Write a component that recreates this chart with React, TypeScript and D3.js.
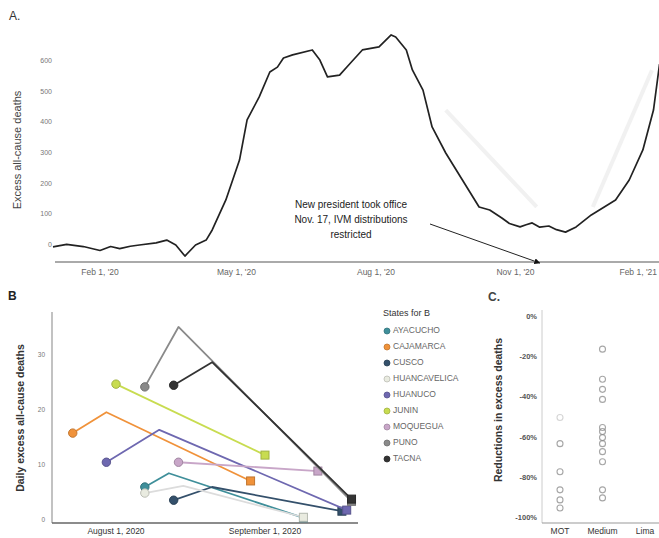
import React, { useEffect, useRef } from 'react';
import * as d3 from 'd3';

// Panel A: Peru, daily excess all-cause deaths (7-day avg)
const peruDates = [
  '2020-01-01', '2020-01-10', '2020-01-21', '2020-02-01', '2020-02-08', '2020-02-14', '2020-02-21',
  '2020-02-27', '2020-03-09', '2020-03-16', '2020-03-22', '2020-03-28', '2020-04-04', '2020-04-11',
  '2020-04-15', '2020-04-24', '2020-05-03', '2020-05-08', '2020-05-16', '2020-05-23', '2020-05-28',
  '2020-06-01', '2020-06-07', '2020-06-20', '2020-06-25', '2020-06-30', '2020-07-08', '2020-07-14',
  '2020-07-23', '2020-08-03', '2020-08-11', '2020-08-14', '2020-08-21', '2020-08-25', '2020-09-01',
  '2020-09-07', '2020-09-16', '2020-09-27', '2020-10-08', '2020-10-15', '2020-10-23', '2020-10-28',
  '2020-11-04', '2020-11-08', '2020-11-12', '2020-11-17', '2020-11-23', '2020-11-28', '2020-12-04',
  '2020-12-11', '2020-12-21', '2021-01-06', '2021-01-15', '2021-01-24', '2021-01-31', '2021-02-04',
];
const peruExcess = [
  -6, 2, -5, -18, -5, -12, -4,
  0, 7, 16, 0, -36, 0, 16,
  49, 147, 277, 408, 483, 564, 580,
  610, 620, 636, 603, 548, 554, 587,
  636, 646, 685, 678, 636, 571, 505,
  385, 300, 212, 124, 114, 88, 70,
  59, 66, 72, 58, 62, 50, 42,
  59, 98, 147, 212, 310, 440, 590,
];
const peruTicks = ['2020-02-01', '2020-05-01', '2020-08-01', '2020-11-01', '2021-02-01'];
const peruTickLabels = ["Feb 1, '20", "May 1, '20", "Aug 1, '20", "Nov 1, '20", "Feb 1, '21"];
const peruYTicks = [0, 100, 200, 300, 400, 500, 600];
const presidentDate = '2020-11-17';
// faint grey guide bands in the background of A
const guideDates = [['2020-09-16', '2020-11-15'], ['2020-12-22', '2021-01-30']];
const guideValues = [[440, 124], [124, 570]];

// Panel B: states
const states = ['AYACUCHO', 'CAJAMARCA', 'CUSCO', 'HUANCAVELICA', 'HUANUCO', 'JUNIN', 'MOQUEGUA', 'PUNO', 'TACNA'];
const stateColors = ['#3f8f9a', '#f0923a', '#34506b', '#e9ebe0', '#6e68b0', '#c8dc50', '#c8a6c8', '#8a8a8a', '#333333'];
const stateDates = [
  ['2020-08-07', '2020-08-12', '2020-09-09'],
  ['2020-07-23', '2020-07-30', '2020-08-29'],
  ['2020-08-13', '2020-08-21', '2020-09-17'],
  ['2020-08-07', '2020-08-15', '2020-09-09'],
  ['2020-07-30', '2020-08-10', '2020-09-18'],
  ['2020-08-01', '2020-09-01'],
  ['2020-08-14', '2020-09-12'],
  ['2020-08-07', '2020-08-14', '2020-09-19'],
  ['2020-08-13', '2020-08-21', '2020-09-19'],
];
const stateValues = [
  [6, 8.5, 0.4],
  [15.8, 19.6, 7.1],
  [3.6, 6, 1.6],
  [4.9, 6.2, 0.5],
  [10.5, 16.4, 1.8],
  [24.7, 11.8],
  [10.5, 8.9],
  [24.2, 35.1, 3.4],
  [24.5, 28.7, 3.8],
];
const bYTicks = [0, 10, 20, 30];
const bDateTicks = ['2020-08-01', '2020-09-01'];
const bDateLabels = ['August 1, 2020', 'September 1, 2020'];

// Panel C: reductions by distribution group
const groups = ['MOT', 'Medium', 'Lima'];
const motReductions = [-50, -63, -77, -86, -91, -95];
const mediumReductions = [-16, -31, -36, -41, -55, -57, -60, -63, -67, -72, -86, -90];
const cTicks = [0, -20, -40, -60, -80, -100];

const font = 'Liberation Sans, Arial, sans-serif';
const parse = d3.timeParse('%Y-%m-%d');

export default function App() {
  const ref = useRef<SVGSVGElement>(null);
  const width = 659;
  const height = 538;

  useEffect(() => {
    const svg = d3.select(ref.current);
    svg.selectAll('*').remove();
    svg.append('rect').attr('width', width).attr('height', height).attr('fill', 'white');

    // ---------- Panel A ----------
    const xA = d3.scaleTime()
      .domain([parse('2020-02-01')!, parse('2021-02-01')!])
      .range([100, 655]);
    const yA = d3.scaleLinear().domain([0, 600]).range([245, 61]);

    svg.append('text').attr('x', 9).attr('y', 20).text('A.')
      .style('font-family', font).style('font-size', '12px').style('fill', '#333');

    guideDates.forEach((ds, i) => {
      svg.append('line')
        .attr('x1', xA(parse(ds[0])!)).attr('y1', yA(guideValues[i][0]))
        .attr('x2', xA(parse(ds[1])!)).attr('y2', yA(guideValues[i][1]))
        .attr('stroke', '#f1f1f1').attr('stroke-width', 4);
    });

    peruYTicks.forEach(t => {
      svg.append('text')
        .attr('x', 52).attr('y', yA(t)).attr('text-anchor', 'end').attr('dominant-baseline', 'middle')
        .style('font-family', font).style('font-size', '7px').style('fill', '#777')
        .text(t);
    });
    svg.append('text')
      .attr('transform', `translate(21,150) rotate(-90)`)
      .attr('text-anchor', 'middle')
      .style('font-family', font).style('font-size', '11px').style('fill', '#444')
      .text('Excess all-cause deaths');

    svg.append('line').attr('x1', 55).attr('x2', 659).attr('y1', 262).attr('y2', 262)
      .attr('stroke', '#aaa').attr('stroke-width', 2);
    peruTicks.forEach((t, i) => {
      const last = i === peruTicks.length - 1;
      svg.append('text')
        .attr('x', last ? 657 : xA(parse(t)!)).attr('y', 275)
        .attr('text-anchor', last ? 'end' : 'middle')
        .style('font-family', font).style('font-size', '8.5px').style('fill', '#666')
        .text(peruTickLabels[i]);
    });

    const lineA = d3.line<number>()
      .x((_, i) => xA(parse(peruDates[i])!))
      .y(d => yA(d))
      .curve(d3.curveLinear);
    svg.append('path')
      .attr('d', lineA(peruExcess))
      .attr('fill', 'none').attr('stroke', '#222').attr('stroke-width', 1.7)
      .attr('stroke-linejoin', 'round');

    const note = ['New president took office', 'Nov. 17, IVM distributions', 'restricted'];
    note.forEach((s, i) => {
      svg.append('text')
        .attr('x', 351).attr('y', 208 + i * 15).attr('text-anchor', 'middle')
        .style('font-family', font).style('font-size', '10px').style('fill', '#222')
        .text(s);
    });
    const px = xA(parse(presidentDate)!);
    svg.append('defs').append('marker')
      .attr('id', 'arrow').attr('viewBox', '0 0 10 10').attr('refX', 9).attr('refY', 5)
      .attr('markerWidth', 6).attr('markerHeight', 6).attr('orient', 'auto')
      .append('path').attr('d', 'M0,0 L10,5 L0,10 z').attr('fill', '#111');
    svg.append('line')
      .attr('x1', 430).attr('y1', 224).attr('x2', px).attr('y2', 263)
      .attr('stroke', '#222').attr('stroke-width', 1).attr('marker-end', 'url(#arrow)');

    // ---------- Panel B ----------
    const xB = d3.scaleTime()
      .domain([parse('2020-08-01')!, parse('2020-09-01')!])
      .range([116, 265]);
    const yB = d3.scaleLinear().domain([0, 10]).range([520, 465]);

    svg.append('text').attr('x', 8).attr('y', 300).text('B')
      .style('font-family', font).style('font-size', '12px').style('font-weight', 'bold').style('fill', '#222');

    svg.append('line').attr('x1', 52).attr('x2', 52).attr('y1', 312).attr('y2', 523)
      .attr('stroke', '#999').attr('stroke-width', 1.2);
    svg.append('line').attr('x1', 52).attr('x2', 358).attr('y1', 523).attr('y2', 523)
      .attr('stroke', '#666').attr('stroke-width', 1.5);
    bYTicks.forEach(t => {
      svg.append('text')
        .attr('x', 45).attr('y', yB(t)).attr('text-anchor', 'end').attr('dominant-baseline', 'middle')
        .style('font-family', font).style('font-size', '6.5px').style('fill', '#777')
        .text(t);
    });
    bDateTicks.forEach((t, i) => {
      svg.append('text')
        .attr('x', xB(parse(t)!)).attr('y', 534).attr('text-anchor', 'middle')
        .style('font-family', font).style('font-size', '8.5px').style('fill', '#333')
        .text(bDateLabels[i]);
    });
    svg.append('text')
      .attr('transform', `translate(24,418) rotate(-90)`)
      .attr('text-anchor', 'middle')
      .style('font-family', font).style('font-size', '10.5px').style('font-weight', 'bold').style('fill', '#333')
      .text('Daily excess all-cause deaths');

    states.forEach((s, k) => {
      const pts = stateDates[k].map((d, i) => [xB(parse(d)!), yB(stateValues[k][i])] as [number, number]);
      const col = stateColors[k];
      const edge = d3.color(col)!.darker(0.6).formatHex();
      svg.append('path')
        .attr('d', d3.line()(pts))
        .attr('fill', 'none').attr('stroke', k === 3 ? '#dcdcdc' : col).attr('stroke-width', 1.8)
        .attr('stroke-linejoin', 'round');
      const first = pts[0];
      const last = pts[pts.length - 1];
      svg.append('circle').attr('cx', first[0]).attr('cy', first[1]).attr('r', 4.2)
        .attr('fill', col).attr('stroke', edge).attr('stroke-width', 1);
      svg.append('rect').attr('x', last[0] - 4).attr('y', last[1] - 4).attr('width', 8).attr('height', 8)
        .attr('fill', col).attr('stroke', edge).attr('stroke-width', 1);
    });

    // legend
    svg.append('text').attr('x', 383).attr('y', 316).text('States for B')
      .style('font-family', font).style('font-size', '9px').style('fill', '#333');
    states.forEach((s, k) => {
      const y = 331 + k * 16;
      const col = stateColors[k];
      svg.append('circle').attr('cx', 387).attr('cy', y).attr('r', 3)
        .attr('fill', col).attr('stroke', d3.color(col)!.darker(0.6).formatHex()).attr('stroke-width', 0.8);
      svg.append('text').attr('x', 393).attr('y', y).attr('dominant-baseline', 'middle')
        .style('font-family', font).style('font-size', '8.5px').style('fill', '#666')
        .text(s);
    });

    // ---------- Panel C ----------
    const xC = d3.scalePoint().domain(groups).range([560, 645]);
    const yC = d3.scaleLinear().domain([-100, 0]).range([518, 317]);

    svg.append('text').attr('x', 488).attr('y', 301).text('C.')
      .style('font-family', font).style('font-size', '12px').style('font-weight', 'bold').style('fill', '#444');
    svg.append('text')
      .attr('transform', `translate(502,410) rotate(-90)`)
      .attr('text-anchor', 'middle')
      .style('font-family', font).style('font-size', '10.5px').style('font-weight', 'bold').style('fill', '#333')
      .text('Reductions in excess deaths');
    svg.append('line').attr('x1', 542).attr('x2', 542).attr('y1', 310).attr('y2', 523)
      .attr('stroke', '#ccc').attr('stroke-width', 1);
    svg.append('line').attr('x1', 542).attr('x2', 659).attr('y1', 523).attr('y2', 523)
      .attr('stroke', '#999').attr('stroke-width', 1.2);
    cTicks.forEach(t => {
      svg.append('text')
        .attr('x', 537).attr('y', yC(t)).attr('text-anchor', 'end').attr('dominant-baseline', 'middle')
        .style('font-family', font).style('font-size', '7.5px').style('font-weight', 'bold').style('fill', '#555')
        .text(`${t}%`);
    });
    groups.forEach(g => {
      svg.append('text')
        .attr('x', xC(g)!).attr('y', 534).attr('text-anchor', 'middle')
        .style('font-family', font).style('font-size', '8.5px').style('fill', '#333')
        .text(g);
    });
    const drawPts = (vals: number[], g: string) => {
      vals.forEach((v, i) => {
        svg.append('circle').attr('cx', xC(g)!).attr('cy', yC(v)).attr('r', 3)
          .attr('fill', 'none').attr('stroke', '#888').attr('stroke-width', 1.1)
          .attr('opacity', i === 0 && g === 'MOT' ? 0.35 : 0.75);
      });
    };
    drawPts(motReductions, 'MOT');
    drawPts(mediumReductions, 'Medium');
  }, []);

  return (
    <svg ref={ref} width={width} height={height}
      style={{ position: 'absolute', left: 0, top: 0, display: 'block' }} />
  );
}
